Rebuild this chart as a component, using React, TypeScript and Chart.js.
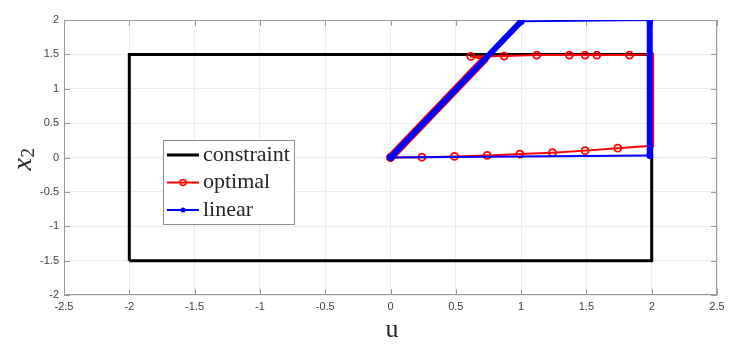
import React, { useEffect, useRef } from 'react';
import { Chart, registerables } from 'chart.js';

Chart.register(...registerables);

const xTicks = [-2.5, -2, -1.5, -1, -0.5, 0, 0.5, 1, 1.5, 2, 2.5];
const yTicks = [-2, -1.5, -1, -0.5, 0, 0.5, 1, 1.5, 2];

const constraintX = [-2, 2, 2, -2, -2];
const constraintY = [-1.5, -1.5, 1.5, 1.5, -1.5];

const optimalX = [0, 0.72, 0.615, 0.87, 1.12, 1.37, 1.49, 1.58, 1.83, 2.0, 2.0, 1.74, 1.49, 1.24, 0.99, 0.74, 0.49, 0.24, 0];
const optimalY = [0, 1.43, 1.47, 1.475, 1.49, 1.49, 1.49, 1.49, 1.49, 1.5, 0.17, 0.135, 0.1, 0.07, 0.05, 0.03, 0.015, 0.005, 0];
const optimalMarker = [1, 0, 1, 1, 1, 1, 1, 1, 1, 0, 0, 1, 1, 1, 1, 1, 1, 1, 1];

const linearX = [0, 1.0, 1.985, 1.985, 0];
const linearY = [0, 1.98, 2.0, 0.03, 0];

const legendLabels = ['constraint', 'optimal', 'linear'];

const toPts = (xs: number[], ys: number[]) => xs.map((x, i) => ({ x, y: ys[i] }));

const segKind = (ctx: any) => {
  const dx = Math.abs(ctx.p1.x - ctx.p0.x);
  const dy = Math.abs(ctx.p1.y - ctx.p0.y);
  if (dx < 2 && dy > 5) return 'vertical';
  if (dy > dx * 0.5) return 'diagonal';
  return 'flat';
};

const decorPlugin = {
  id: 'decor',
  beforeDatasetsDraw(chart: any) {
    const { ctx, chartArea: a } = chart;
    const xs = chart.scales.x;
    const ys = chart.scales.y;
    ctx.save();
    ctx.strokeStyle = '#9a9a9a';
    ctx.lineWidth = 1;
    ctx.strokeRect(a.left + 0.5, a.top + 0.5, a.right - a.left - 1, a.bottom - a.top - 1);
    ctx.beginPath();
    xTicks.forEach((v) => {
      const px = Math.round(xs.getPixelForValue(v)) + 0.5;
      ctx.moveTo(px, a.bottom);
      ctx.lineTo(px, a.bottom - 6);
      ctx.moveTo(px, a.top);
      ctx.lineTo(px, a.top + 6);
    });
    yTicks.forEach((v) => {
      const py = Math.round(ys.getPixelForValue(v)) + 0.5;
      ctx.moveTo(a.left, py);
      ctx.lineTo(a.left + 6, py);
      ctx.moveTo(a.right, py);
      ctx.lineTo(a.right - 6, py);
    });
    ctx.stroke();
    ctx.restore();
  },
  afterDraw(chart: any) {
    const { ctx, chartArea: a } = chart;
    ctx.save();
    ctx.fillStyle = '#262626';
    ctx.font = '26px "Liberation Serif"';
    ctx.textAlign = 'center';
    ctx.textBaseline = 'alphabetic';
    ctx.fillText('u', (a.left + a.right) / 2 + 1.5, 337);

    ctx.save();
    ctx.translate(31, (a.top + a.bottom) / 2 + 2);
    ctx.rotate(-Math.PI / 2);
    ctx.textAlign = 'left';
    ctx.font = 'italic 28px "Liberation Serif"';
    const wx = ctx.measureText('x').width;
    ctx.fillText('x', -11, 0);
    ctx.font = '19px "Liberation Serif"';
    ctx.fillText('2', -11 + wx + 0.5, 3);
    ctx.restore();

    const lx = a.left + 99;
    const ly = a.top + 120;
    const lw = 131;
    const lh = 84;
    ctx.fillStyle = '#ffffff';
    ctx.fillRect(lx, ly, lw, lh);
    ctx.strokeStyle = '#8c8c8c';
    ctx.lineWidth = 1;
    ctx.strokeRect(lx + 0.5, ly + 0.5, lw, lh);
    const rows = [15, 42.5, 70];
    const colors = ['#000000', '#ff0000', '#0000ff'];
    legendLabels.forEach((label, i) => {
      const cy = ly + rows[i];
      ctx.strokeStyle = colors[i];
      ctx.lineWidth = i === 0 ? 3 : 2;
      ctx.beginPath();
      ctx.moveTo(lx + 4, cy);
      ctx.lineTo(lx + 36, cy);
      ctx.stroke();
      if (i === 1) {
        ctx.beginPath();
        ctx.arc(lx + 20, cy, 3, 0, Math.PI * 2);
        ctx.lineWidth = 1.5;
        ctx.stroke();
      } else if (i === 2) {
        ctx.beginPath();
        ctx.fillStyle = colors[i];
        ctx.arc(lx + 20, cy, 2.5, 0, Math.PI * 2);
        ctx.fill();
      }
      ctx.fillStyle = '#262626';
      ctx.font = '22px "Liberation Serif"';
      ctx.textAlign = 'left';
      ctx.textBaseline = 'middle';
      ctx.fillText(label, lx + 40, cy);
    });
    ctx.restore();
  },
};

export default function App() {
  const ref = useRef<HTMLCanvasElement | null>(null);
  useEffect(() => {
    document.body.style.margin = '0';
    const canvas = ref.current;
    if (!canvas) return;
    const tickFont = { family: '"Liberation Sans", Arial, sans-serif', size: 11 };
    const chart = new Chart(canvas, {
      type: 'scatter',
      data: {
        datasets: [
          {
            label: 'constraint',
            data: toPts(constraintX, constraintY),
            showLine: true,
            borderColor: '#000000',
            borderWidth: 3,
            pointRadius: 0,
            order: 3,
          },
          {
            label: 'optimal',
            data: toPts(optimalX, optimalY),
            showLine: true,
            borderColor: '#ff0000',
            borderWidth: 2,
            borderCapStyle: 'round',
            borderJoinStyle: 'round',
            pointRadius: optimalMarker.map((m) => (m ? 3.5 : 0)),
            pointBorderWidth: 1.8,
            pointBorderColor: '#ff0000',
            pointBackgroundColor: 'rgba(255,255,255,0)',
            segment: {
              borderWidth: (c: any) => {
                const k = segKind(c);
                return k === 'diagonal' ? 8 : k === 'vertical' ? 5 : 2;
              },
            },
            order: 2,
          },
          {
            label: 'linear',
            data: toPts(linearX, linearY),
            showLine: true,
            borderColor: '#0000ff',
            borderWidth: 2,
            borderCapStyle: 'round',
            borderJoinStyle: 'round',
            pointRadius: 3.5,
            pointBorderWidth: 0,
            pointBackgroundColor: '#0000ff',
            segment: { borderWidth: (c: any) => (segKind(c) === 'flat' ? 2 : 6) },
            order: 1,
          },
        ],
      } as any,
      options: {
        animation: false,
        responsive: false,
        maintainAspectRatio: false,
        layout: { padding: { top: 20, right: 24, left: 0, bottom: 0 } },
        plugins: { legend: { display: false }, tooltip: { enabled: false } },
        scales: {
          x: {
            type: 'linear',
            min: -2.5,
            max: 2.5,
            afterBuildTicks: (s: any) => {
              s.ticks = xTicks.map((v) => ({ value: v }));
            },
            afterFit: (s: any) => {
              s.height = 60;
            },
            grid: { color: '#ebebeb', drawTicks: false },
            border: { display: false },
            ticks: { padding: 5, color: '#404040', font: tickFont, maxRotation: 0, autoSkip: false, callback: (v: any) => String(v) },
          },
          y: {
            type: 'linear',
            min: -2,
            max: 2,
            afterBuildTicks: (s: any) => {
              s.ticks = yTicks.map((v) => ({ value: v }));
            },
            afterFit: (s: any) => {
              s.width = 64;
            },
            grid: { color: '#ebebeb', drawTicks: false },
            border: { display: false },
            ticks: { padding: 5, color: '#404040', font: tickFont, autoSkip: false, callback: (v: any) => String(v) },
          },
        },
      } as any,
      plugins: [decorPlugin],
    });
    return () => chart.destroy();
  }, []);
  return (
    <div style={{ width: 741, height: 355, background: '#ffffff' }}>
      <canvas ref={ref} width={741} height={355} style={{ display: 'block' }} />
    </div>
  );
}
